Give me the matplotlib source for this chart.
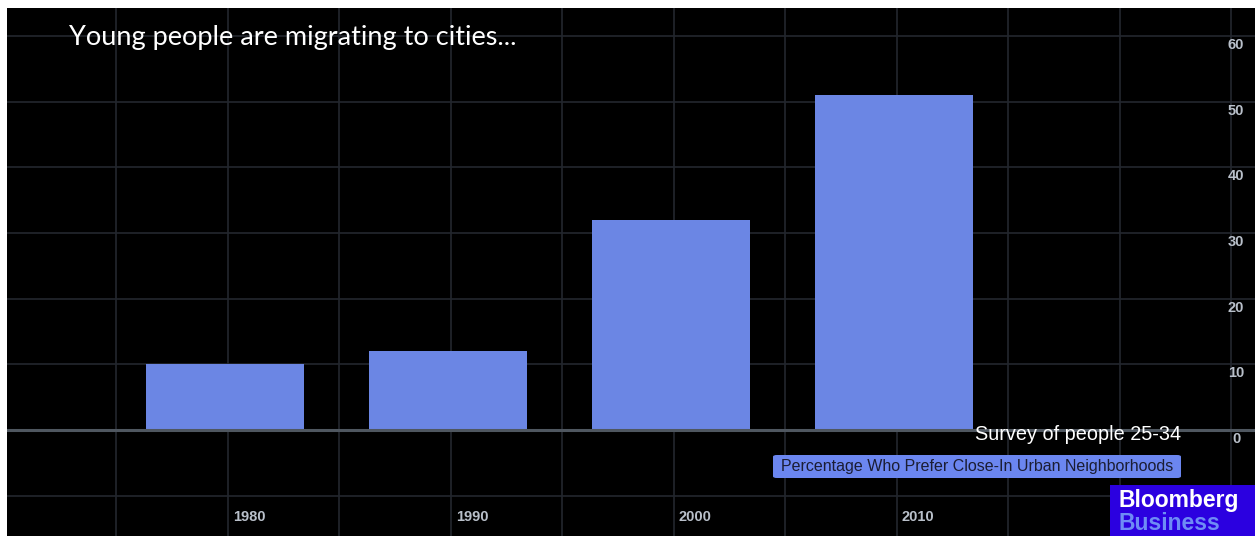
import matplotlib
matplotlib.use("Agg")
import matplotlib.pyplot as plt
from matplotlib.patches import FancyBboxPatch, Rectangle

years = ["1980", "1990", "2000", "2010"]
values = [10, 12, 32, 51]
yticks = [0, 10, 20, 30, 40, 50, 60]
title = "Young people are migrating to cities..."
subtitle = "Survey of people 25-34"
legend_label = "Percentage Who Prefer Close-In Urban Neighborhoods"

W, H = 1255, 536
fig = plt.figure(figsize=(W / 100, H / 100), dpi=100, facecolor="white")
ax = fig.add_axes([7 / W, 0, (W - 7) / W, (H - 8) / H])
ax.set_facecolor("black")

px_per_x = 223.0
px_per_y = 6.57
x0_px = 225.0
xmin = (7 - x0_px) / px_per_x
xmax = (W - x0_px) / px_per_x
ymax = (430 - 8) / px_per_y
ymin = -(H - 430) / px_per_y
ax.set_xlim(xmin, xmax)
ax.set_ylim(ymin, ymax)

grid_c = "#23272e"
k = -1.0
while k < xmax:
    ax.axvline(k + 0.013, color=grid_c, lw=1.2, zorder=0)
    k += 0.5
for v in range(-10, 70, 10):
    ax.axhline(v, color=grid_c, lw=1.2, zorder=0)

xs = list(range(len(years)))
ax.bar(xs, values, width=158 / px_per_x, color="#6b86e4", zorder=2)
ax.axhline(0, color="#4f5760", lw=2.2, zorder=3)

for v in yticks:
    ax.text((1236 - x0_px) / px_per_x, v - 1.4, str(v), color="#b9c0ca",
            fontsize=10.5, fontweight="bold", family="Liberation Sans",
            ha="center", va="center", zorder=4)
for i, y in enumerate(years):
    ax.text(i + 0.108, -13.2, y, color="#b9c0ca", fontsize=10.5,
            fontweight="bold", family="Liberation Sans",
            ha="center", va="center", zorder=4)

for sp in ax.spines.values():
    sp.set_visible(False)
ax.set_xticks([])
ax.set_yticks([])

fig.text(69 / W, 1 - 37 / H, title, color="white", fontsize=19.5,
         family="Lato", ha="left", va="center")
fig.text(1181 / W, 1 - 434 / H, subtitle, color="white", fontsize=14.3,
         family="Liberation Sans", ha="right", va="center")
fig.patches.append(FancyBboxPatch((773 / W, 1 - 478 / H), (1181 - 773) / W, 23 / H,
                                  boxstyle="round,pad=0,rounding_size=0.003",
                                  transform=fig.transFigure, facecolor="#6b86f0",
                                  edgecolor="none", zorder=5))
fig.text(977 / W, 1 - 466.5 / H, legend_label, color="#1b1d33", fontsize=11.5,
         family="Liberation Sans", ha="center", va="center", zorder=6)
fig.patches.append(Rectangle((1110 / W, 0), (W - 1110) / W, (536 - 485) / H,
                             transform=fig.transFigure, facecolor="#2b00e0",
                             edgecolor="none", zorder=5))
fig.text(1119 / W, 1 - 500 / H, "Bloomberg", color="white", fontsize=16.5,
         fontweight="bold", family="Liberation Sans", ha="left", va="center", zorder=6)
fig.text(1119 / W, 1 - 524 / H, "Business", color="#6e8cf5", fontsize=16.5,
         fontweight="bold", family="Liberation Sans", ha="left", va="center", zorder=6)

fig.savefig("out.png", dpi=100, facecolor="white")
